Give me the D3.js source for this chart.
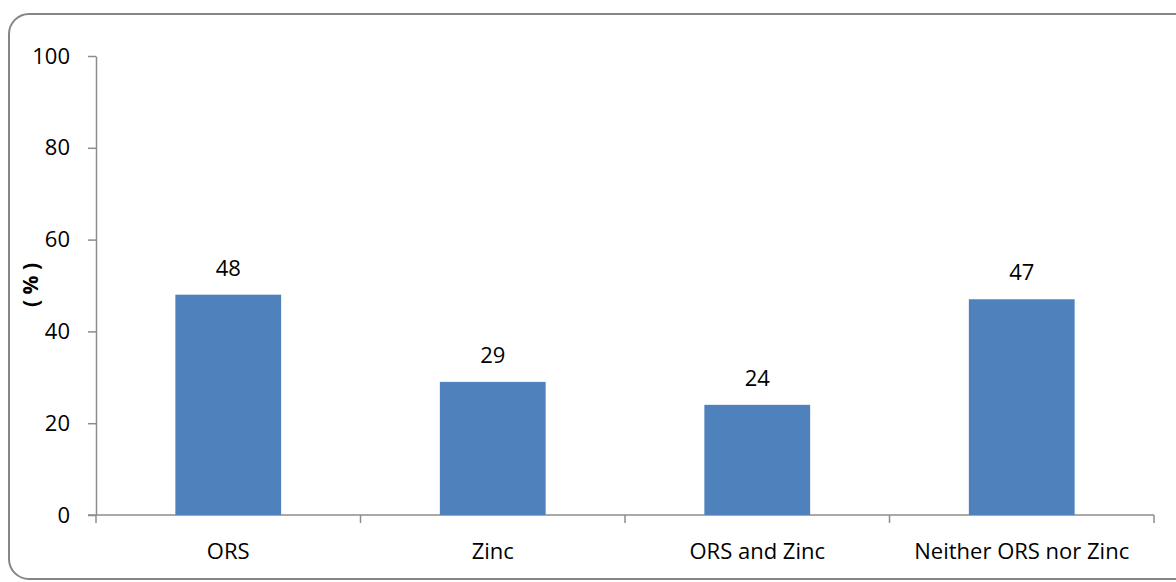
<!DOCTYPE html>
<html>
<head>
<meta charset="utf-8">
<script src="https://cdn.jsdelivr.net/npm/d3@7"></script>
<style>
  body { margin: 0; background: #fff; }
  svg { display: block; font-family: "Open Sans", sans-serif; }
</style>
</head>
<body>
<div id="chart"></div>
<script>
// Chart data
const categories = ["ORS", "Zinc", "ORS and Zinc", "Neither ORS nor Zinc"];
const values = [48, 29, 24, 47];
const yTicks = [0, 20, 40, 60, 80, 100];

const width = 1176;
const height = 582;
const margin = {left: 96, right: 22, top: 56, bottom: 67};
const fontSize = "22px";

const svg = d3.select("#chart")
  .append("svg")
  .attr("width", width)
  .attr("height", height);

// outer frame, right side runs off the picture
svg.append("rect")
  .attr("x", 9)
  .attr("y", 14)
  .attr("width", 1190)
  .attr("height", 565)
  .attr("rx", 20)
  .attr("fill", "none")
  .attr("stroke", "#868686")
  .attr("stroke-width", 2);

const xScale = d3.scaleBand()
  .domain(categories)
  .range([margin.left, width - margin.right])
  .padding(0);

const yScale = d3.scaleLinear()
  .domain([0, 100])
  .range([height - margin.bottom, margin.top]);

const axisColor = "#8c8c8c";

// y axis
const yAxis = svg.append("g")
  .attr("transform", `translate(${margin.left},0)`)
  .call(d3.axisLeft(yScale).tickValues(yTicks).tickSize(8).tickPadding(18).tickSizeOuter(0));
yAxis.select(".domain").attr("stroke", axisColor).attr("stroke-width", 1.5);
yAxis.selectAll(".tick line").attr("stroke", axisColor).attr("stroke-width", 1.5);
yAxis.selectAll(".tick text")
  .attr("font-size", fontSize)
  .attr("fill", "#000")
  .attr("font-family", "Open Sans, sans-serif");

// x axis, ticks on category boundaries
const boundaries = categories.map(c => xScale(c)).concat([width - margin.right]);
const xg = svg.append("g");
xg.append("line")
  .attr("x1", margin.left - 8)
  .attr("x2", width - margin.right)
  .attr("y1", yScale(0))
  .attr("y2", yScale(0))
  .attr("stroke", axisColor)
  .attr("stroke-width", 1.5);
xg.selectAll(".xtick")
  .data(boundaries)
  .enter()
  .append("line")
  .attr("x1", d => d)
  .attr("x2", d => d)
  .attr("y1", yScale(0))
  .attr("y2", yScale(0) + 8)
  .attr("stroke", axisColor)
  .attr("stroke-width", 1.5);
xg.selectAll(".xlabel")
  .data(categories)
  .enter()
  .append("text")
  .attr("x", d => xScale(d) + xScale.bandwidth() / 2)
  .attr("y", yScale(0) + 44)
  .attr("text-anchor", "middle")
  .attr("font-size", fontSize)
  .text(d => d);

// bars
const barWidth = xScale.bandwidth() * 0.4;
svg.selectAll(".bar")
  .data(values)
  .enter()
  .append("rect")
  .attr("x", (d, i) => xScale(categories[i]) + (xScale.bandwidth() - barWidth) / 2)
  .attr("y", d => yScale(d))
  .attr("width", barWidth)
  .attr("height", d => yScale(0) - yScale(d))
  .attr("fill", "#4f81bd");

// value labels
svg.selectAll(".val")
  .data(values)
  .enter()
  .append("text")
  .attr("x", (d, i) => xScale(categories[i]) + xScale.bandwidth() / 2)
  .attr("y", d => yScale(d) - 19)
  .attr("text-anchor", "middle")
  .attr("font-size", fontSize)
  .text(d => d);

// y axis title
svg.append("text")
  .attr("transform", "translate(38,285) rotate(-90)")
  .attr("text-anchor", "middle")
  .attr("font-size", "21px")
  .attr("font-weight", "bold")
  .text("( % )");
</script>
</body>
</html>
